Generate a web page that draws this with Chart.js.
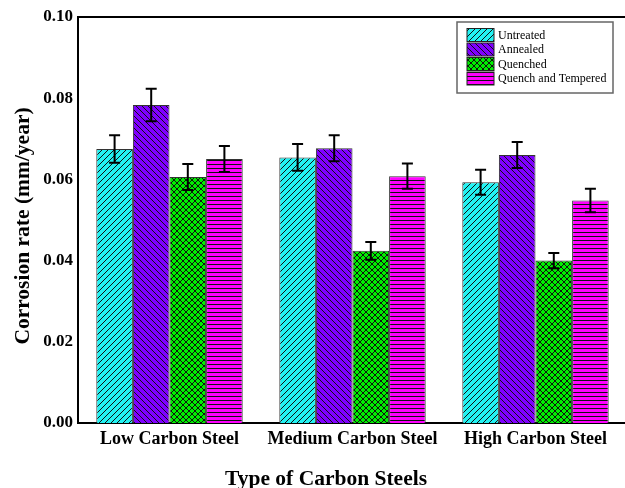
<!DOCTYPE html>
<html>
<head>
<meta charset="utf-8">
<script src="https://cdn.jsdelivr.net/npm/chart.js@4"></script>
<style>
  body { margin: 0; overflow: hidden; background: #fff; }
</style>
</head>
<body>
<canvas id="chart" width="640" height="488"></canvas>
<script>
const categories = ['Low Carbon Steel', 'Medium Carbon Steel', 'High Carbon Steel'];
const seriesNames = ['Untreated', 'Annealed', 'Quenched', 'Quench and Tempered'];
const untreated = [0.0675, 0.0654, 0.0593];
const annealed = [0.0783, 0.0677, 0.0660];
const quenched = [0.0606, 0.0424, 0.0400];
const quenchTempered = [0.0650, 0.0608, 0.0548];
const untreatedErr = [0.0034, 0.0033, 0.0031];
const annealedErr = [0.0040, 0.0032, 0.0032];
const quenchedErr = [0.0032, 0.0022, 0.0019];
const quenchTemperedErr = [0.0032, 0.0031, 0.0029];
const yTicks = [0, 0.02, 0.04, 0.06, 0.08, 0.10];
const xTitle = 'Type of Carbon Steels';
const yTitle = 'Corrosion rate (mm/year)';

const serif = "'Liberation Serif', 'Times New Roman', serif";

// hatch patterns
function makePattern(bg, kind) {
  let c = document.createElement('canvas');
  let s = kind == 'horiz' ? 4 : 6;
  c.width = s; c.height = s;
  let g = c.getContext('2d');
  g.fillStyle = bg;
  g.fillRect(0, 0, s, s);
  g.strokeStyle = '#111';
  g.lineWidth = 1;
  g.beginPath();
  if (kind == 'fwd') {
    g.moveTo(0, s); g.lineTo(s, 0);
    g.moveTo(-1, 1); g.lineTo(1, -1);
    g.moveTo(s - 1, s + 1); g.lineTo(s + 1, s - 1);
  } else if (kind == 'back') {
    g.moveTo(0, 0); g.lineTo(s, s);
    g.moveTo(s - 1, -1); g.lineTo(s + 1, 1);
    g.moveTo(-1, s - 1); g.lineTo(1, s + 1);
  } else if (kind == 'cross') {
    g.moveTo(0, 0); g.lineTo(s, s);
    g.moveTo(0, s); g.lineTo(s, 0);
  } else {
    g.moveTo(0, 0.5); g.lineTo(s, 0.5);
  }
  g.stroke();
  return g.createPattern(c, 'repeat');
}

const fills = [
  makePattern('#22f2f2', 'fwd'),
  makePattern('#7f00ff', 'back'),
  makePattern('#00ee00', 'cross'),
  makePattern('#ff00ff', 'horiz')
];
const values = [untreated, annealed, quenched, quenchTempered];
const errors = [untreatedErr, annealedErr, quenchedErr, quenchTemperedErr];

const errorBars = {
  id: 'errorBars',
  afterDatasetsDraw(chart) {
    let ctx = chart.ctx;
    let y = chart.scales.y;
    ctx.save();
    ctx.strokeStyle = '#000';
    ctx.lineWidth = 2;
    chart.data.datasets.forEach((ds, i) => {
      chart.getDatasetMeta(i).data.forEach((bar, j) => {
        let v = ds.data[j], e = errors[i][j];
        let top = y.getPixelForValue(v + e);
        let bot = y.getPixelForValue(v - e);
        ctx.beginPath();
        ctx.moveTo(bar.x, top); ctx.lineTo(bar.x, bot);
        ctx.moveTo(bar.x - 5.5, top); ctx.lineTo(bar.x + 5.5, top);
        ctx.moveTo(bar.x - 5.5, bot); ctx.lineTo(bar.x + 5.5, bot);
        ctx.stroke();
      });
    });
    ctx.restore();
  }
};

const frameAndLegend = {
  id: 'frameAndLegend',
  afterDraw(chart) {
    let ctx = chart.ctx;
    let a = chart.chartArea;
    ctx.save();
    // top frame line
    ctx.strokeStyle = '#000';
    ctx.lineWidth = 2;
    ctx.beginPath();
    ctx.moveTo(a.left - 1, a.top);
    ctx.lineTo(chart.width, a.top);
    ctx.stroke();

    // axis titles
    ctx.fillStyle = '#000';
    ctx.font = 'bold 21.5px ' + serif;
    ctx.textAlign = 'center';
    ctx.textBaseline = 'alphabetic';
    ctx.fillText(xTitle, 326, 485);
    ctx.save();
    ctx.translate(29, 226);
    ctx.rotate(-Math.PI / 2);
    ctx.fillText(yTitle, 0, 0);
    ctx.restore();

    // legend
    let lx = 457, ly = 22;
    ctx.fillStyle = '#fff';
    ctx.fillRect(lx, ly, 156, 71);
    ctx.strokeStyle = '#666';
    ctx.lineWidth = 1.5;
    ctx.strokeRect(lx, ly, 156, 71);
    ctx.font = '12px ' + serif;
    ctx.textAlign = 'left';
    ctx.textBaseline = 'middle';
    chart.data.datasets.forEach((ds, i) => {
      let cy = 35 + i * 14.5;
      ctx.fillStyle = ds.backgroundColor;
      ctx.fillRect(467, cy - 6.5, 27, 13);
      ctx.strokeStyle = '#222';
      ctx.lineWidth = 1;
      ctx.strokeRect(467, cy - 6.5, 27, 13);
      ctx.fillStyle = '#000';
      ctx.fillText(ds.label, 498, cy + 0.5);
    });
    ctx.restore();
  }
};

new Chart(document.getElementById('chart'), {
  type: 'bar',
  data: {
    labels: categories,
    datasets: seriesNames.map((name, i) => ({
      label: name,
      data: values[i],
      backgroundColor: fills[i],
      borderColor: '#333',
      borderWidth: 1,
      categoryPercentage: 0.8,
      barPercentage: 1.0
    }))
  },
  options: {
    responsive: false,
    animation: false,
    layout: { padding: { top: 17, right: 13, left: 0, bottom: 0 } },
    plugins: {
      legend: { display: false },
      tooltip: { enabled: false }
    },
    scales: {
      x: {
        grid: { display: false, drawTicks: false },
        border: { display: true, color: '#000', width: 2 },
        ticks: {
          color: '#000',
          padding: 6,
          font: { family: serif, size: 18, weight: 'bold' }
        },
        afterFit(scale) { scale.height = 65; }
      },
      y: {
        min: 0,
        max: 0.10,
        grid: { display: false, drawTicks: false },
        border: { display: true, color: '#000', width: 2 },
        afterBuildTicks(scale) {
          scale.ticks = yTicks.map(v => ({ value: v }));
        },
        ticks: {
          color: '#000',
          padding: 5,
          font: { family: serif, size: 17, weight: 'bold' },
          callback: v => v.toFixed(2)
        },
        afterFit(scale) { scale.width = 78; }
      }
    }
  },
  plugins: [errorBars, frameAndLegend]
});
</script>
</body>
</html>
